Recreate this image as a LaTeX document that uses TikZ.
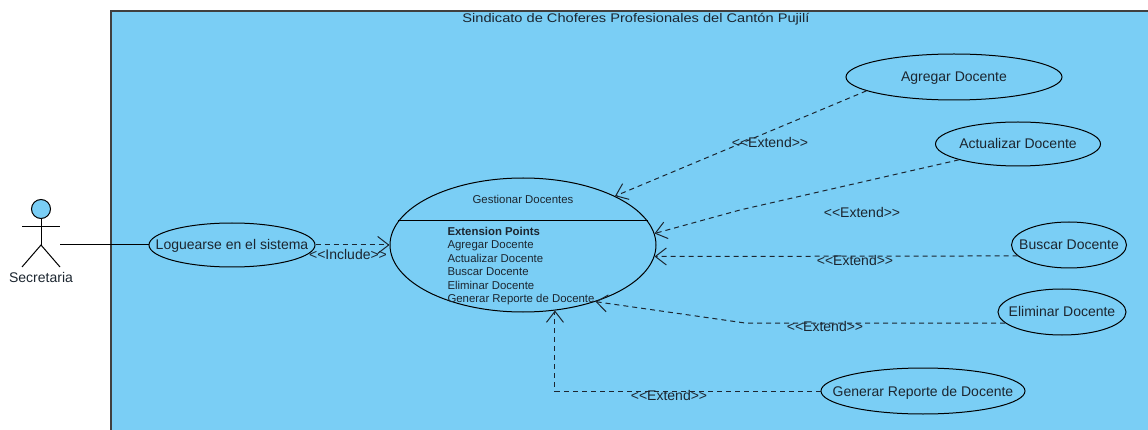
\documentclass[tikz,border=0pt]{standalone}
\usepackage{fontspec}
\setmainfont{Liberation Sans}
\newfontfamily\titlefont[FakeStretch=1.17]{Liberation Sans}
\usetikzlibrary{arrows.meta}
\usetikzlibrary{shapes}

\definecolor{systemBlue}{RGB}{122,206,245}
\definecolor{inkGray}{RGB}{28,38,48}
\newcommand{\caseName}[1]{\makebox[0pt]{\smash{\raisebox{-5pt}{#1}}}}

\begin{document}
\begin{tikzpicture}[x = 1pt, y = -1pt, line width = 1pt, font=\fontsize{14}{16}\selectfont]
	\tikzstyle{useCaseStyle}=[shape = ellipse, draw, inner sep = 0pt, fill = systemBlue, text = inkGray]
	\tikzstyle{labelStyle}=[inner sep = 0pt, text = inkGray, font=\fontsize{14}{16}\selectfont]
	\tikzstyle{smallStyle}=[inner sep = 0pt, text = inkGray, font=\fontsize{11.4}{13.5}\selectfont]
	\tikzstyle{extendStyle}=[draw, inkGray, dash pattern=on 5pt off 4pt, -{Straight Barb[length=11pt, width=17pt, line width=1pt]}]
	\useasboundingbox (0,0) rectangle (1148,430);
	\draw[fill = systemBlue, line width = 1.2pt, draw = black!75] (111,431) -- (111,11) -- (1149,11) -- (1149,431);
	\node[labelStyle, font=\titlefont\fontsize{12.5}{15}\selectfont] (title) at (636,19) {Sindicato de Choferes Profesionales del Cantón Pujilí};
	\node[useCaseStyle, minimum width = 216pt, minimum height = 46pt] (agregar) at (954,77) {\caseName{Agregar Docente}};
	\node[useCaseStyle, minimum width = 165pt, minimum height = 44pt] (actualizar) at (1018,144) {\caseName{Actualizar Docente}};
	\node[useCaseStyle, minimum width = 115pt, minimum height = 46pt] (buscar) at (1069,245) {\caseName{Buscar Docente}};
	\node[useCaseStyle, minimum width = 128pt, minimum height = 46pt] (eliminar) at (1062,312) {\caseName{Eliminar Docente}};
	\node[useCaseStyle, minimum width = 204pt, minimum height = 46pt] (generar) at (923,391) {\caseName{Generar Reporte de Docente}};
	\node[useCaseStyle, minimum width = 166pt, minimum height = 44pt] (loguearse) at (232,245) {\caseName{Loguearse en el sistema}};
	\node[useCaseStyle, minimum width = 266pt, minimum height = 134pt] (gestionar) at (523,245) {};
	\node[smallStyle] (gestionarName) at (523,199) {Gestionar Docentes};
	\draw (gestionar.169) -- (gestionar.11);
	\node[smallStyle, anchor = north west, align = left] (points) at (447,226.5) {\textbf{Extension Points}\\Agregar Docente\\Actualizar Docente\\Buscar Docente\\Eliminar Docente\\Generar Reporte de Docente};
	\node[circle, draw, fill = systemBlue, minimum size = 19pt, inner sep = 0pt] (head) at (41,209) {};
	\coordinate (hip) at (41,245);
	\coordinate (handL) at (22,227);
	\coordinate (handR) at (60,227);
	\coordinate (footL) at (22,267);
	\coordinate (footR) at (60,267);
	\coordinate (hand) at (60,245);
	\node[labelStyle] (secretaria) at (41,277) {Secretaria};
	\draw (head) -- (hip);
	\draw (handL) -- (handR);
	\draw (footL) -- (hip) -- (footR);
	\draw (hand) -- (loguearse);
	\draw[extendStyle] (loguearse) -- (gestionar);
	\node[labelStyle] (include) at (348,254) {<{}<Include>{}>};
	\draw[extendStyle] (agregar.189) -- (gestionar.28);
	\node[labelStyle] (extendA) at (770,142) {<{}<Extend>{}>};
	\coordinate (bendB) at (740,210);
	\draw[extendStyle] (actualizar.195) -- (bendB) -- (gestionar.5);
	\node[labelStyle] (extendB) at (862,212) {<{}<Extend>{}>};
	\draw[extendStyle] (buscar.192) -- (gestionar.-5);
	\node[labelStyle] (extendC) at (855,260) {<{}<Extend>{}>};
	\coordinate (bendD) at (745,323);
	\draw[extendStyle] (eliminar.191) -- (bendD) -- (gestionar.-38);
	\node[labelStyle] (extendD) at (825,326) {<{}<Extend>{}>};
	\draw[extendStyle] (generar.west) -| (gestionar.-64);
	\node[labelStyle] (extendE) at (669,395) {<{}<Extend>{}>};
\end{tikzpicture}
\end{document}
